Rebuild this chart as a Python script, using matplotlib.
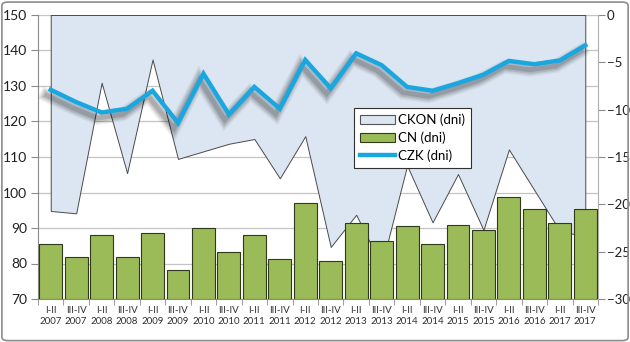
import matplotlib
matplotlib.use('Agg')
import matplotlib.pyplot as plt
import matplotlib.patheffects as pe
from matplotlib.patches import FancyBboxPatch, Patch
from matplotlib.lines import Line2D
import numpy as np

plt.rcParams['font.family'] = ['Lato', 'DejaVu Sans']

# polrocza 2007-2017
periods = ['I-II', 'III-IV'] * 11
years = [str(y) for y in range(2007, 2018) for _ in range(2)]
labels = [p + '\n' + y for p, y in zip(periods, years)]

# cykl naleznosci (dni), os lewa
cn = [85.4, 81.8, 88.0, 81.9, 88.5, 78.2, 90.0, 83.3, 88.0, 81.3, 97.1,
      80.7, 91.5, 86.4, 90.6, 85.5, 90.8, 89.4, 98.8, 95.4, 91.5, 95.4]
# cykl konwersji (dni), os prawa
ckon = [-20.7, -20.95, -7.15, -16.7, -4.7, -15.2, -14.4, -13.6, -13.1, -17.25, -12.8,
        -24.5, -21.1, -26.5, -15.9, -21.9, -16.8, -22.7, -14.2, -18.5, -22.8, -23.4]
# cykl zobowiazan (dni), os prawa
czk = [-7.9, -9.2, -10.3, -9.9, -8.0, -11.4, -6.2, -10.5, -7.6, -9.9, -4.75,
       -7.75, -4.05, -5.3, -7.6, -8.0, -7.2, -6.3, -4.85, -5.2, -4.8, -3.2]

x = np.arange(len(labels))
grid_c = '#c4c4c4'
axis_c = '#8a8a8a'

fig = plt.figure(figsize=(6.3, 3.42), dpi=100)
rect = [38 / 630, 1 - 299 / 342, 560 / 630, 284 / 342]

# axes bazowe: siatka, opisy osi
base = fig.add_axes(rect)
base.set_zorder(0)
base.set_xlim(-0.5, len(labels) - 0.5)
base.set_ylim(70, 150)
base.set_yticks(np.arange(70, 151, 10))
base.yaxis.grid(True, color=grid_c, lw=0.9)
base.set_axisbelow(True)
base.set_xticks(x)
base.set_xticklabels(labels, fontsize=7, color='#303030', linespacing=1.35)
base.set_xticks(np.arange(-0.5, len(labels), 1), minor=True)
base.tick_params(axis='x', which='major', length=0, pad=5)
base.tick_params(axis='x', which='minor', length=4, color=axis_c)
base.tick_params(axis='y', length=5, color=axis_c, labelsize=10, pad=3)
for t in base.get_yticklabels():
    t.set_color('#202020')
for s in ['top', 'right']:
    base.spines[s].set_visible(False)
for s in ['left', 'bottom']:
    base.spines[s].set_color(axis_c)

# os prawa: CKON jako obszar od zera w dol, CZK jako linia
sec = base.twinx()
sec.set_zorder(1)
sec.patch.set_visible(False)
sec.set_ylim(-30, 0)
sec.set_yticks(np.arange(-30, 1, 5))
sec.tick_params(axis='y', length=5, color=axis_c, labelsize=9.5, pad=1.5)
for t in sec.get_yticklabels():
    t.set_color('#202020')
sec.spines['right'].set_color('#b0b0b0')
for s in ['top', 'left', 'bottom']:
    sec.spines[s].set_visible(False)

sec.fill_between(x, ckon, 0, facecolor='#dce6f2', edgecolor='#4a4a4a', lw=0.7)

shadow = [pe.SimpleLineShadow(offset=(-3, -4), shadow_color='black', alpha=a, linewidth=w)
          for a, w in [(0.05, 10), (0.07, 8), (0.1, 6), (0.14, 3.5)]]
sec.plot(x, czk, color='#1aa7e0', lw=3.2, solid_joinstyle='miter',
         path_effects=shadow + [pe.Normal()])

# wierzch: slupki CN na osi lewej
top = base.twinx()
top.set_zorder(2)
top.patch.set_visible(False)
top.set_ylim(70, 150)
top.axis('off')
top.bar(x, [v - 70 for v in cn], bottom=70, width=0.9, color='#9bbb59',
        edgecolor='#2f3a1a', lw=0.8)

handles = [Patch(facecolor='#dce6f2', edgecolor='#555555', lw=0.8),
           Patch(facecolor='#9bbb59', edgecolor='#2f3a1a', lw=0.8),
           Line2D([], [], color='#1aa7e0', lw=3.2)]
leg = top.legend(handles, ['CKON (dni)', 'CN (dni)', 'CZK (dni)'],
                 loc='upper left', bbox_to_anchor=(0.553, 0.697),
                 fontsize=9.5, frameon=True, fancybox=False,
                 handlelength=2.6, handletextpad=0.3, borderpad=0.45,
                 labelspacing=0.4)
leg.get_frame().set_edgecolor('#303030')
leg.get_frame().set_linewidth(0.8)
leg.get_frame().set_alpha(1)

fig.patches.append(FancyBboxPatch((0.003, 0.004), 0.994, 0.99,
                                  boxstyle='round,pad=0,rounding_size=0.01',
                                  transform=fig.transFigure, fill=False,
                                  edgecolor='#8c8c8c', lw=1.2))

fig.savefig('out.png', dpi=100)
